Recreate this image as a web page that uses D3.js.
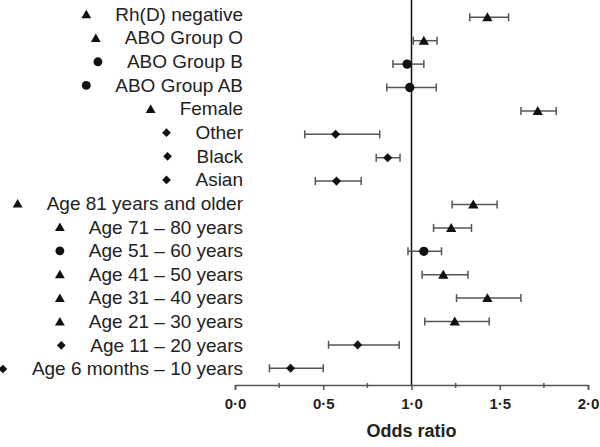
<!DOCTYPE html>
<html><head><meta charset="utf-8">
<script src="https://cdn.jsdelivr.net/npm/d3@7"></script>
<style>body{margin:0;background:#fff}svg{display:block}</style>
</head><body>
<svg id="c" width="600" height="447"></svg>
<script>
const labels = ["Rh(D) negative","ABO Group O","ABO Group B","ABO Group AB","Female","Other","Black","Asian",
  "Age 81 years and older","Age 71 \u2013 80 years","Age 51 \u2013 60 years","Age 41 \u2013 50 years",
  "Age 31 \u2013 40 years","Age 21 \u2013 30 years","Age 11 \u2013 20 years","Age 6 months \u2013 10 years"];
const shapes = ["tri","tri","circ","circ","tri","dia","dia","dia","tri","tri","circ","tri","tri","tri","dia","dia"];
const oddsRatio = [1.43,1.07,0.975,0.99,1.715,0.57,0.865,0.575,1.35,1.225,1.07,1.18,1.43,1.245,0.695,0.315];
const ciLow  = [1.33,1.01,0.895,0.86,1.62,0.395,0.80,0.455,1.23,1.125,0.98,1.06,1.255,1.075,0.53,0.195];
const ciHigh = [1.55,1.145,1.07,1.14,1.82,0.82,0.935,0.715,1.485,1.34,1.17,1.32,1.62,1.44,0.93,0.50];
const tickVals = [0,0.5,1,1.5,2];
const minorTicks = [0.25,0.75,1.25,1.75];
const refValue = 1;

const svg = d3.select("#c");
const data = labels.map((l,i)=>({label:l,shape:shapes[i],or:oddsRatio[i],lo:ciLow[i],hi:ciHigh[i]}));
const x = d3.scaleLinear().domain([0,2]).range([235,588]);
const y = d3.scalePoint().domain(labels).range([17.3,368.3]);
const yL = d3.scalePoint().domain(labels).range([14.5,369]);
const axisY = 385;
const FONT = "Liberation Sans, Arial, sans-serif";

const symType = {tri:d3.symbolTriangle, circ:d3.symbolCircle, dia:d3.symbolSquare};
const symSize = {tri:42, circ:62, dia:38};
function sym(g, s, scale){
  g.append("path").attr("d", d3.symbol().type(symType[s]).size(symSize[s]*scale)())
   .attr("transform", s==="dia" ? "rotate(45)" : (s==="tri" ? "translate(0,1)" : null))
   .attr("fill","#111");
}

// reference line
svg.append("line").attr("x1",x(refValue)).attr("x2",x(refValue)).attr("y1",0).attr("y2",axisY)
  .attr("stroke","#111").attr("stroke-width",1.5);

// axis
const ax = svg.append("g").attr("transform",`translate(0,${axisY})`)
  .call(d3.axisBottom(x).tickValues(tickVals).tickSize(5).tickPadding(8)
    .tickFormat(d=>d3.format(".1f")(d).replace(".","\u00b7")));
ax.select(".domain").attr("stroke","#555").attr("stroke-width",1.5);
ax.selectAll(".tick line").attr("stroke","#555").attr("stroke-width",1.5);
ax.selectAll(".tick text").attr("font-family",FONT)
  .attr("font-size",15).attr("font-weight","bold").attr("fill","#222");
ax.selectAll(".minor").data(minorTicks).enter().append("line")
  .attr("x1",d=>x(d)).attr("x2",d=>x(d)).attr("y1",-2).attr("y2",3)
  .attr("stroke","#555").attr("stroke-width",1.5);

svg.append("text").attr("x",x(1)).attr("y",437).attr("text-anchor","middle")
  .attr("font-family",FONT).attr("font-size",18)
  .attr("font-weight","bold").attr("fill","#222").text("Odds ratio");

// rows
const rows = svg.selectAll(".row").data(data).enter().append("g");
rows.append("line").attr("x1",d=>x(d.lo)).attr("x2",d=>x(d.hi)).attr("y1",d=>y(d.label)).attr("y2",d=>y(d.label))
  .attr("stroke","#555").attr("stroke-width",1.5);
rows.append("line").attr("x1",d=>x(d.lo)).attr("x2",d=>x(d.lo)).attr("y1",d=>y(d.label)-4).attr("y2",d=>y(d.label)+4)
  .attr("stroke","#555").attr("stroke-width",1.5);
rows.append("line").attr("x1",d=>x(d.hi)).attr("x2",d=>x(d.hi)).attr("y1",d=>y(d.label)-4).attr("y2",d=>y(d.label)+4)
  .attr("stroke","#555").attr("stroke-width",1.5);
rows.each(function(d){
  const g = d3.select(this).append("g").attr("transform",`translate(${x(d.or)},${y(d.label)})`);
  sym(g, d.shape, 1.1);
});

// labels with marker
const stretch = 1.055;
const lab = svg.selectAll(".lab").data(data).enter().append("g");
lab.each(function(d){
  const g = d3.select(this);
  const t = g.append("text").attr("transform",`translate(243,${yL(d.label)}) scale(${stretch},1)`)
    .attr("dy","0.35em")
    .attr("text-anchor","end").attr("font-family",FONT)
    .attr("font-size",18).attr("fill","#222").text(d.label);
  const w = t.node().getComputedTextLength()*stretch;
  const m = g.append("g").attr("transform",`translate(${243-w-29},${yL(d.label)})`);
  sym(m, d.shape, 1.0);
});
</script>
</body></html>
